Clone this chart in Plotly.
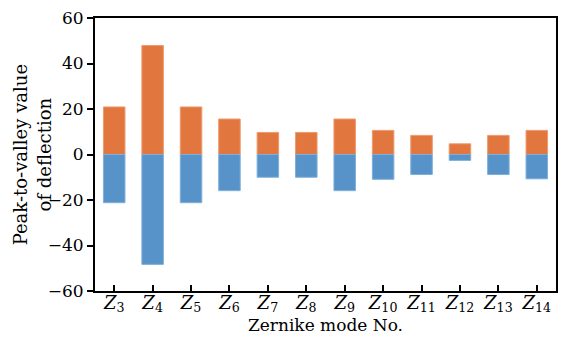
import plotly.graph_objects as go

modes = [3, 4, 5, 6, 7, 8, 9, 10, 11, 12, 13, 14]
tick_labels = [f"<i>Z</i><sub>{m}</sub>" for m in modes]
peak_values = [20.9, 47.9, 20.9, 15.6, 9.7, 9.7, 15.6, 10.6, 8.4, 4.7, 8.4, 10.6]
valley_values = [-21.2, -48.3, -21.2, -15.9, -10.0, -10.0, -15.9, -10.9, -8.8, -2.6, -8.8, -10.7]
y_title = "Peak-to-valley value<br>of deflection"
x_title = "Zernike mode No."

FONT = "DejaVu Serif"

fig = go.Figure()
fig.add_trace(go.Bar(x=tick_labels, y=peak_values, marker=dict(color="#E2763F", line=dict(color="#EE9A6E", width=1)), name="peak"))
fig.add_trace(go.Bar(x=tick_labels, y=valley_values, marker=dict(color="#5793C9", line=dict(color="#7FB0DA", width=1)), name="valley"))

fig.update_layout(
    width=566, height=342,
    barmode="relative", bargap=0.44,
    showlegend=False,
    plot_bgcolor="white", paper_bgcolor="white",
    margin=dict(l=95, r=10, t=18, b=51, autoexpand=False),
    font=dict(family=FONT, size=17, color="black"),
)
fig.update_xaxes(
    showline=True, linecolor="black", linewidth=2, mirror=True,
    ticks="inside", ticklen=6, tickwidth=1.5, tickcolor="black",
    tickfont=dict(size=18), automargin=False, ticklabelstandoff=-6,
    title=dict(text=x_title, font=dict(size=17), standoff=3),
)
fig.update_yaxes(
    range=[-60, 60], dtick=20, showgrid=False, zeroline=False,
    showline=True, linecolor="black", linewidth=2, mirror=True,
    ticks="outside", ticklen=6, tickwidth=1.5, tickcolor="black",
    tickfont=dict(size=17), automargin=False,
)
fig.add_annotation(
    text=y_title, textangle=-90, showarrow=False,
    xref="paper", yref="paper", x=-0.137, y=0.5,
    xanchor="center", yanchor="middle",
    font=dict(family=FONT, size=18, color="black"),
)
fig.write_html("out.html", config={"displayModeBar": False},
               post_script="document.body.style.margin='0';")
